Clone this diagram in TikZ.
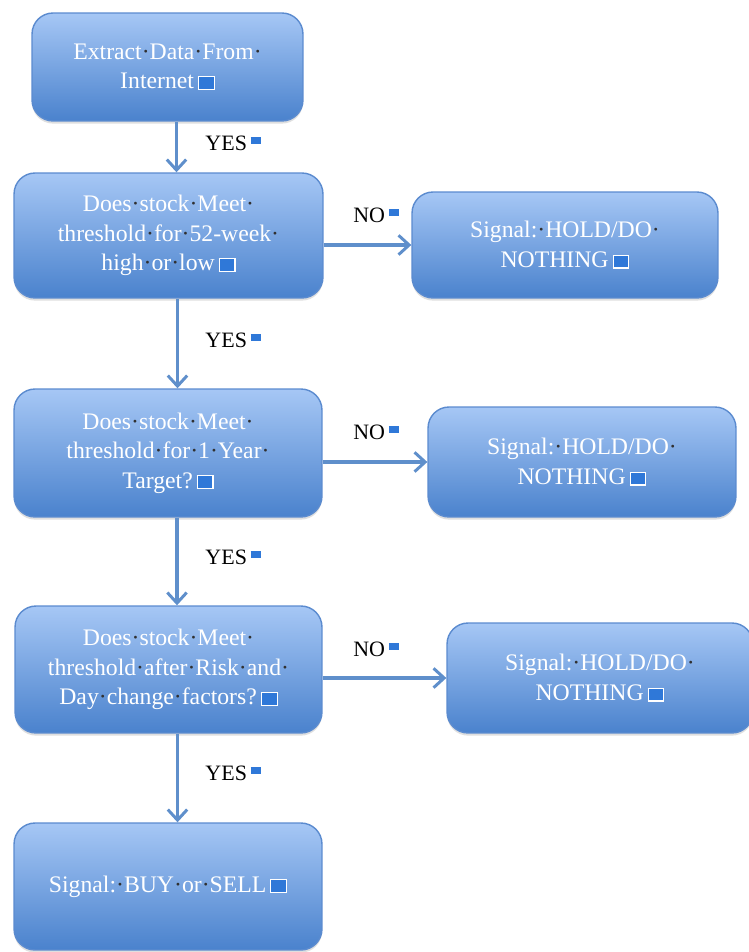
\documentclass[tikz,border=0pt]{standalone}
\usepackage{fontspec}
\setmainfont{Liberation Serif}
\usetikzlibrary{arrows.meta,shadows}

\definecolor{boxtop}{HTML}{A6C7F5}
\definecolor{boxbot}{HTML}{4A82CD}
\definecolor{boxedge}{HTML}{5B8BCF}
\definecolor{flowblue}{HTML}{5F8FCB}
\definecolor{markblue}{HTML}{2F78D8}
\definecolor{dotgray}{HTML}{303030}

% word-processor marks as printed in the picture
\newcommand{\dt}{\textcolor{dotgray}{·}}
\newcommand{\pmark}{\,\fcolorbox{white}{markblue}{\rule{0pt}{0.5em}\rule{0.62em}{0pt}}}
\newcommand{\lmark}{\,\textcolor{markblue}{\rule[0.3em]{0.45em}{0.32em}}}

\tikzset{
  stepbox/.style={draw=boxedge, line width=0.8pt, rounded corners=0.42cm,
    top color=boxtop, bottom color=boxbot, text=white, align=center,
    font=\fontsize{13.5}{16.8}\selectfont, inner sep=0pt,
    drop shadow={opacity=0.25, shadow xshift=0pt, shadow yshift=-1.5pt}},
  flow/.style={draw=flowblue, line width=2.1pt, -{Straight Barb[length=6pt,width=11pt,line width=1.7pt]}},
  answer/.style={font=\fontsize{12.5}{15}\selectfont, inner sep=0pt}
}

\begin{document}
\begin{tikzpicture}[x=0.02cm, y=-0.02cm]
    \useasboundingbox (0,0) rectangle (748,952);
    \fboxsep=0pt \fboxrule=0.6pt

    % the main column
    \node[stepbox, minimum width=5.42cm, minimum height=2.16cm] (extract) at (167.5,67)
        {Extract\dt Data\dt From\dt\\Internet\pmark};
    \node[stepbox, minimum width=6.18cm, minimum height=2.5cm] (high) at (168.5,235.5)
        {Does\dt stock\dt Meet\dt\\threshold\dt for\dt 52-week\dt\\high\dt or\dt low\pmark};
    \node[stepbox, minimum width=6.16cm, minimum height=2.56cm] (target) at (168,453)
        {Does\dt stock\dt Meet\dt\\threshold\dt for\dt 1\dt Year\dt\\Target?\pmark};
    \node[stepbox, minimum width=6.14cm, minimum height=2.54cm] (risk) at (168.5,669.5)
        {Does\dt stock\dt Meet\dt\\threshold\dt after\dt Risk\dt and\dt\\Day\dt change\dt factors?\pmark};
    \node[stepbox, minimum width=6.16cm, minimum height=2.54cm] (buy) at (168,886.5)
        {Signal:\dt BUY\dt or\dt SELL\pmark};

    % the hold boxes on the right
    \node[stepbox, minimum width=6.12cm, minimum height=2.12cm] (hold1) at (565,245)
        {Signal:\dt HOLD/DO\dt\\NOTHING\pmark};
    \node[stepbox, minimum width=6.16cm, minimum height=2.2cm] (hold2) at (582,462)
        {Signal:\dt HOLD/DO\dt\\NOTHING\pmark};
    \node[stepbox, minimum width=6.12cm, minimum height=2.2cm] (hold3) at (600,678)
        {Signal:\dt HOLD/DO\dt\\NOTHING\pmark};

    % yes arrows
    \draw[flow] ([xshift=0.18cm]extract.south) -- ([xshift=0.18cm]extract.south |- high.north);
    \draw[flow] ([xshift=0.18cm]high.south) -- ([xshift=0.18cm]high.south |- target.north);
    \draw[flow] ([xshift=0.18cm]target.south) -- ([xshift=0.18cm]target.south |- risk.north);
    \draw[flow] ([xshift=0.18cm]risk.south) -- ([xshift=0.18cm]risk.south |- buy.north);

    % no arrows
    \draw[flow] (high.east |- hold1.west) -- (hold1.west);
    \draw[flow] (target.east |- hold2.west) -- (hold2.west);
    \draw[flow] (risk.east |- hold3.west) -- (hold3.west);

    % answers
    \foreach \name/\y in {yes1/143, yes2/340, yes3/557, yes4/773}
        \node[answer] (\name) at (233,\y) {YES\lmark};
    \foreach \name/\y in {no1/215, no2/432, no3/649}
        \node[answer] (\name) at (376,\y) {NO\lmark};
\end{tikzpicture}
\end{document}
